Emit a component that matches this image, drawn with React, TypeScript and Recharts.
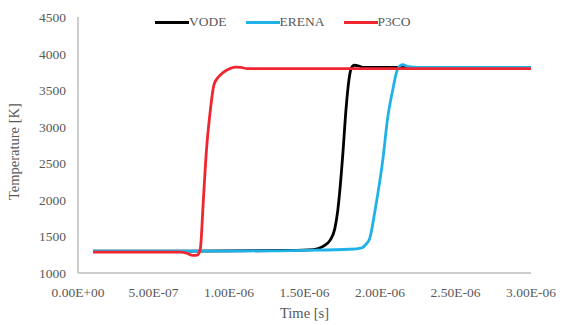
import React from "react";
import { LineChart, Line, XAxis, YAxis } from "recharts";

// Temperature histories [K] over time [s] for the three solvers
const vodeSeries = [
  { t: 1.0e-7, T: 1300 }, { t: 5.0e-7, T: 1300 }, { t: 1.0e-6, T: 1302 },
  { t: 1.4e-6, T: 1308 }, { t: 1.56e-6, T: 1320 }, { t: 1.62e-6, T: 1360 },
  { t: 1.67e-6, T: 1450 }, { t: 1.70e-6, T: 1600 }, { t: 1.72e-6, T: 1850 },
  { t: 1.735e-6, T: 2150 }, { t: 1.755e-6, T: 2660 }, { t: 1.775e-6, T: 3240 },
  { t: 1.795e-6, T: 3650 }, { t: 1.81e-6, T: 3800 }, { t: 1.83e-6, T: 3840 },
  { t: 1.86e-6, T: 3830 }, { t: 1.89e-6, T: 3810 }, { t: 3.0e-6, T: 3810 },
];

const erenaSeries = [
  { t: 1.0e-7, T: 1300 }, { t: 1.0e-6, T: 1300 }, { t: 1.5e-6, T: 1310 },
  { t: 1.8e-6, T: 1325 }, { t: 1.88e-6, T: 1345 }, { t: 1.91e-6, T: 1400 },
  { t: 1.93e-6, T: 1460 }, { t: 1.97e-6, T: 1890 }, { t: 2.02e-6, T: 2570 },
  { t: 2.05e-6, T: 3110 }, { t: 2.085e-6, T: 3510 }, { t: 2.11e-6, T: 3750 },
  { t: 2.13e-6, T: 3830 }, { t: 2.15e-6, T: 3850 }, { t: 2.19e-6, T: 3820 },
  { t: 2.25e-6, T: 3810 }, { t: 3.0e-6, T: 3810 },
];

const p3coSeries = [
  { t: 1.0e-7, T: 1285 }, { t: 6.8e-7, T: 1285 }, { t: 7.2e-7, T: 1270 },
  { t: 7.6e-7, T: 1240 }, { t: 7.9e-7, T: 1245 }, { t: 8.1e-7, T: 1330 },
  { t: 8.3e-7, T: 1990 }, { t: 8.5e-7, T: 2660 }, { t: 8.75e-7, T: 3200 },
  { t: 9.0e-7, T: 3570 }, { t: 9.3e-7, T: 3680 }, { t: 9.6e-7, T: 3740 },
  { t: 1.0e-6, T: 3790 }, { t: 1.04e-6, T: 3815 }, { t: 1.08e-6, T: 3810 },
  { t: 1.12e-6, T: 3795 }, { t: 3.0e-6, T: 3795 },
];

const timeTicks = [0, 5.0e-7, 1.0e-6, 1.5e-6, 2.0e-6, 2.5e-6, 3.0e-6];
const tempTicks = [1000, 1500, 2000, 2500, 3000, 3500, 4000, 4500];

const seriesInfo = [
  { name: "VODE", color: "#000000", data: vodeSeries },
  { name: "ERENA", color: "#1FB2E8", data: erenaSeries },
  { name: "P3CO", color: "#F02630", data: p3coSeries },
];

const FONT = "Liberation Serif, Times New Roman, serif";
const TEXT = "#595959";
const AXIS = "#BDBDBD";
const TICK_SIZE = 13.5;

// Excel-style scientific label, e.g. 5.00E-07
const sci = (v: number) => {
  const [m, e] = v.toExponential(2).toUpperCase().split("E");
  const sign = e.startsWith("-") ? "-" : "+";
  const digits = e.replace(/[+-]/, "").padStart(2, "0");
  return `${m}E${sign}${digits}`;
};

const TimeTick = (props: any) => {
  const { x, y, payload } = props;
  return (
    <text x={x} y={y + 16} textAnchor="middle" fill={TEXT} fontSize={TICK_SIZE} fontFamily={FONT}>
      {sci(payload.value)}
    </text>
  );
};

const TempTick = (props: any) => {
  const { x, y, payload } = props;
  return (
    <text x={x - 4} y={y + 5} textAnchor="end" fill={TEXT} fontSize={TICK_SIZE} fontFamily={FONT}>
      {payload.value}
    </text>
  );
};

const LegendRow = () => (
  <div
    style={{
      position: "absolute",
      left: 155,
      top: 14,
      display: "flex",
      fontFamily: FONT,
      fontSize: 13.5,
      color: TEXT,
      lineHeight: "16px",
    }}
  >
    {seriesInfo.map((s) => (
      <div key={s.name} style={{ display: "flex", alignItems: "center", marginRight: 19 }}>
        <div style={{ width: 34, height: 3, background: s.color }} />
        <span>{s.name}</span>
      </div>
    ))}
  </div>
);

export default function App() {
  return (
    <div style={{ position: "absolute", left: 0, top: 0, width: 566, height: 325, background: "#fff" }}>
      <LineChart
        width={566}
        height={325}
        margin={{ top: 17, right: 35, bottom: 0, left: 0 }}
        style={{ fontFamily: FONT }}
      >
        <XAxis
          type="number"
          dataKey="t"
          domain={[0, 3.0e-6]}
          ticks={timeTicks}
          tickLine={false}
          axisLine={{ stroke: AXIS, strokeWidth: 1.5 }}
          tick={<TimeTick />}
          height={52}
          allowDataOverflow
          label={{
            value: "Time [s]",
            position: "insideBottom",
            offset: 7,
            fill: TEXT,
            fontSize: 14.5,
            fontFamily: FONT,
          }}
        />
        <YAxis
          type="number"
          dataKey="T"
          domain={[1000, 4500]}
          ticks={tempTicks}
          tickLine={false}
          axisLine={{ stroke: AXIS, strokeWidth: 1.5 }}
          tick={<TempTick />}
          width={78}
          label={{
            value: "Temperature [K]",
            angle: -90,
            position: "insideLeft",
            offset: 14,
            dy: 55,
            fill: TEXT,
            fontSize: 14.5,
            fontFamily: FONT,
          }}
        />
        {seriesInfo.map((s) => (
          <Line
            key={s.name}
            name={s.name}
            data={s.data}
            dataKey="T"
            type="monotone"
            stroke={s.color}
            strokeWidth={2.8}
            dot={false}
            isAnimationActive={false}
          />
        ))}
      </LineChart>
      <LegendRow />
    </div>
  );
}
